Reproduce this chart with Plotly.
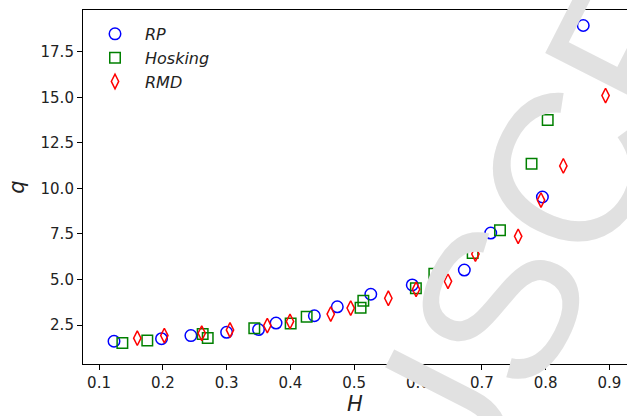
import plotly.graph_objects as go

# Hurst exponent H vs. q for three generators
rp_h = [0.1235, 0.198, 0.244, 0.300, 0.350, 0.3775, 0.4375, 0.4735, 0.526, 0.591, 0.6726, 0.714, 0.795, 0.859]
rp_q = [1.61, 1.75, 1.92, 2.10, 2.25, 2.61, 3.01, 3.50, 4.19, 4.70, 5.52, 7.55, 9.53, 18.95]

hosking_h = [0.1366, 0.1757, 0.2625, 0.2704, 0.3434, 0.4004, 0.4255, 0.510, 0.5143, 0.5967, 0.6256, 0.6857, 0.7285, 0.778, 0.8033]
hosking_q = [1.52, 1.65, 2.01, 1.79, 2.32, 2.59, 2.96, 3.45, 3.84, 4.52, 5.32, 6.46, 7.70, 11.36, 13.76]

rmd_h = [0.160, 0.2024, 0.261, 0.3053, 0.3638, 0.3994, 0.4632, 0.4945, 0.5535, 0.597, 0.647, 0.690, 0.757, 0.7928, 0.8278, 0.894]
rmd_q = [1.78, 1.92, 2.05, 2.23, 2.47, 2.70, 3.10, 3.43, 3.97, 4.46, 4.90, 6.40, 7.37, 9.36, 11.24, 15.10]

x_ticks = [0.1, 0.2, 0.3, 0.4, 0.5, 0.6, 0.7, 0.8, 0.9]
y_ticks = [2.5, 5.0, 7.5, 10.0, 12.5, 15.0, 17.5]

FONT = "DejaVu Sans"

fig = go.Figure()
fig.add_trace(go.Scatter(
    x=rp_h, y=rp_q, mode="markers", name="RP",
    marker=dict(symbol="circle-open", size=11.5, color="#0000ff", line=dict(width=1.5, color="#0000ff")),
))
fig.add_trace(go.Scatter(
    x=hosking_h, y=hosking_q, mode="markers", name="Hosking",
    marker=dict(symbol="square-open", size=10.5, color="#008000", line=dict(width=1.5, color="#008000")),
))
fig.add_trace(go.Scatter(
    x=rmd_h, y=rmd_q, mode="markers", name="RMD",
    marker=dict(symbol="diamond-tall-open", size=10.5, color="#ff0000", line=dict(width=1.5, color="#ff0000")),
))

axis_common = dict(
    showgrid=False, zeroline=False, showline=True, linecolor="black", linewidth=1.1,
    ticks="outside", ticklen=5, tickwidth=1.1, tickcolor="black",
    tickfont=dict(family=FONT, size=15, color="#222222"),
)

fig.update_xaxes(
    **axis_common, range=[0.0749, 0.9276], tickvals=x_ticks, tickformat=".1f", mirror=True,
    title=dict(text="H", font=dict(family=FONT, size=21, style="italic", color="#222222"), standoff=9),
)
fig.update_yaxes(
    **axis_common, range=[0.36, 19.80], tickvals=y_ticks, tickformat=".1f",
    title=dict(text="q", font=dict(family=FONT, size=21, style="italic", color="#222222"), standoff=10),
)

# diagonal watermark
fig.add_annotation(
    text="MANUSCRIPT", xref="paper", yref="paper", x=(502 - 83) / 544, y=(367 - 302) / 357,
    xanchor="center", yanchor="middle", showarrow=False, textangle=-63,
    font=dict(family="Liberation Sans", size=215, color="#e1e1e1"),
)

fig.update_layout(
    width=627, height=416,
    margin=dict(l=83, r=0, t=10, b=49),
    paper_bgcolor="white", plot_bgcolor="white",
    showlegend=True,
    legend=dict(
        x=(85 - 83) / 544, y=(367 - 17) / 357, xanchor="left", yanchor="top",
        bgcolor="rgba(0,0,0,0)", borderwidth=0, itemwidth=50,
        font=dict(family=FONT, size=16, style="italic", color="#222222"),
    ),
)

fig.write_html("out.html")
